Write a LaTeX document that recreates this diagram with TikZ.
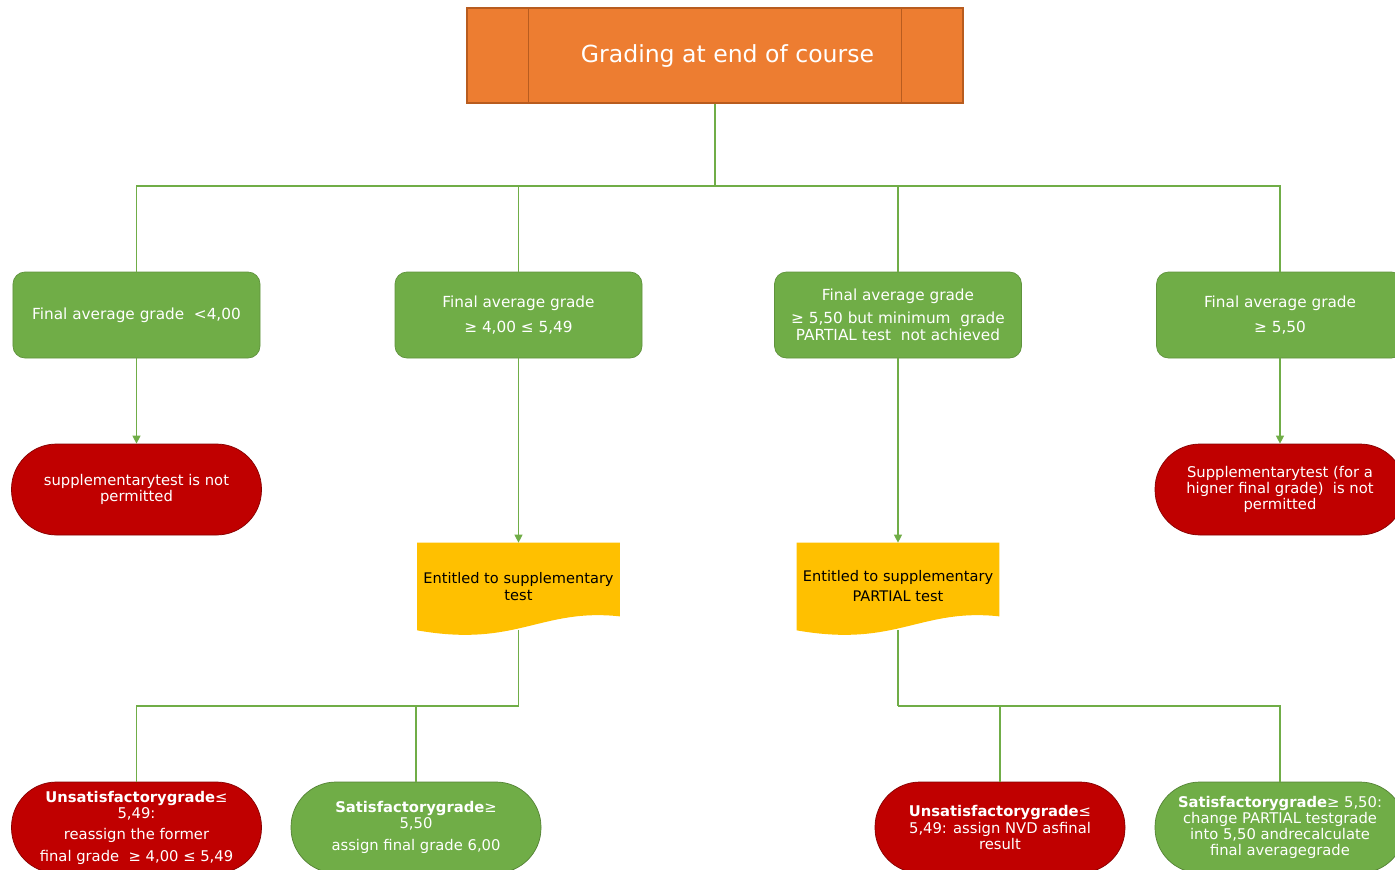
\documentclass[tikz,border=0pt]{standalone}
\usepackage{fontspec}
\setmainfont{DejaVu Sans}
\usepackage{tikz}
\usetikzlibrary{calc}
\usetikzlibrary{arrows.meta}
\usetikzlibrary{backgrounds}

\definecolor{headorange}{HTML}{ED7D31}
\definecolor{headedge}{HTML}{B85C1F}
\definecolor{passgreen}{HTML}{70AD47}
\definecolor{failred}{HTML}{C00000}
\definecolor{notegold}{HTML}{FFC000}

\tikzset{
    link/.style={draw=passgreen, line width=0.7pt},
    linkarrow/.style={link, -{Triangle[width=4.5pt,length=4.5pt]}},
    gradebox/.style={rectangle, rounded corners=0.24cm, fill=passgreen, draw=passgreen!85!black,
        minimum width=4.94cm, minimum height=1.72cm, text=white, align=center,
        font=\fontsize{8.7}{10}\selectfont},
    stopbox/.style={rectangle, rounded corners=0.9cm, fill=failred, draw=failred!70!black,
        minimum width=5cm, minimum height=1.82cm, text=white, align=center,
        font=\fontsize{8.4}{9.2}\selectfont},
    okbox/.style={stopbox, fill=passgreen, draw=passgreen!75!black},
    notebox/.style={rectangle, minimum width=4.02cm, minimum height=1.74cm, align=center,
        text=black, font=\fontsize{8.3}{9.4}\selectfont}
}

\begin{document}
\begin{tikzpicture}
        \useasboundingbox (0,0) rectangle (27.9,-17.4);
        \clip (0,0) rectangle (27.9,-17.4);

        % title
        \node[rectangle, fill=headorange, draw=headedge, line width=0.6pt, minimum width=9.92cm,
              minimum height=1.9cm, text=white, font=\fontsize{13.4}{15}\selectfont]
              (title) at (14.3,-1.11) {\hspace*{0.5cm}Grading at end of course};
        \draw[headedge, line width=0.6pt] ($(title.north west)+(1.24,0)$) -- ($(title.south west)+(1.24,0)$);
        \draw[headedge, line width=0.6pt] ($(title.north east)+(-1.24,0)$) -- ($(title.south east)+(-1.24,0)$);

        % final average grade
        \node[gradebox] (avg1) at (2.73,-6.3) {Final average grade\ \ {<}4,00};
        \node[gradebox] (avg2) at (10.37,-6.3) {Final average grade\\[4pt] ≥ 4,00 ≤ 5,49};
        \node[gradebox] (avg3) at (17.96,-6.3) {Final average grade\\[3pt] ≥ 5,50 but minimum\ \ grade\\ PARTIAL test\ \ not achieved};
        \node[gradebox] (avg4) at (25.6,-6.3) {Final average grade\\[4pt] ≥ 5,50};

        \coordinate (hub) at (14.3,-3.72);
        \draw[link, line width=1.1pt] (title.south) -- (hub);
        \draw[link] (hub) -| (avg1.north);
        \draw[link] (hub) -| (avg2.north);
        \draw[link] (hub) -| (avg3.north);
        \draw[link] (hub) -| (avg4.north);

        % second row
        \node[stopbox] (deny1) at (2.73,-9.79) {supplementarytest is not\\ permitted};
        \node[stopbox] (deny2) at (25.6,-9.79) {Supplementarytest (for a\\ higner final grade)\ \ is not\\ permitted};
        \node[notebox] (ent1) at (10.37,-11.73) {Entitled to supplementary\\ test};
        \node[notebox] (ent2) at (17.96,-11.73) {Entitled to supplementary\\[2pt] PARTIAL test};

        \begin{scope}[on background layer]
            \foreach \n in {ent1,ent2}
                \fill[notegold] (\n.north west) -- (\n.north east) -- ($(\n.south east)+(0,0.28)$)
                    .. controls ($(\n.south east)+(-1.6,0.45)$) and ($(\n.south west)+(2.0,-0.35)$) .. (\n.south west) -- cycle;
        \end{scope}

        \draw[linkarrow] (avg1.south) -- (deny1.north);
        \draw[linkarrow] (avg4.south) -- (deny2.north);
        \draw[linkarrow] (avg2.south) -- (ent1.north);
        \draw[linkarrow] (avg3.south) -- (ent2.north);

        % outcomes
        \node[stopbox] (fail1) at (2.73,-16.55) {\textbf{Unsatisfactorygrade}≤\\ 5,49:\\[3pt] reassign the former\\[3pt] final grade\ \ ≥\ 4,00\ ≤\ 5,49};
        \node[okbox] (pass1) at (8.32,-16.55) {\textbf{Satisfactorygrade}≥\\ 5,50\\[3pt] assign final grade 6,00};
        \node[stopbox] (fail2) at (20.0,-16.55) {\textbf{Unsatisfactorygrade}≤\\ 5,49: assign NVD asfinal\\ result};
        \node[okbox] (pass2) at (25.6,-16.55) {\textbf{Satisfactorygrade}≥ 5,50:\\ change PARTIAL testgrade\\ into 5,50 andrecalculate\\ final averagegrade};

        \coordinate (split1) at (10.37,-14.12);
        \coordinate (split2) at (17.96,-14.12);
        \draw[link] (ent1.south) -- (split1);
        \draw[link] (split1) -| (fail1.north);
        \draw[link] (split1) -| (pass1.north);
        \draw[link] (ent2.south) -- (split2);
        \draw[link] (split2) -| (fail2.north);
        \draw[link] (split2) -| (pass2.north);
    \end{tikzpicture}
\end{document}
